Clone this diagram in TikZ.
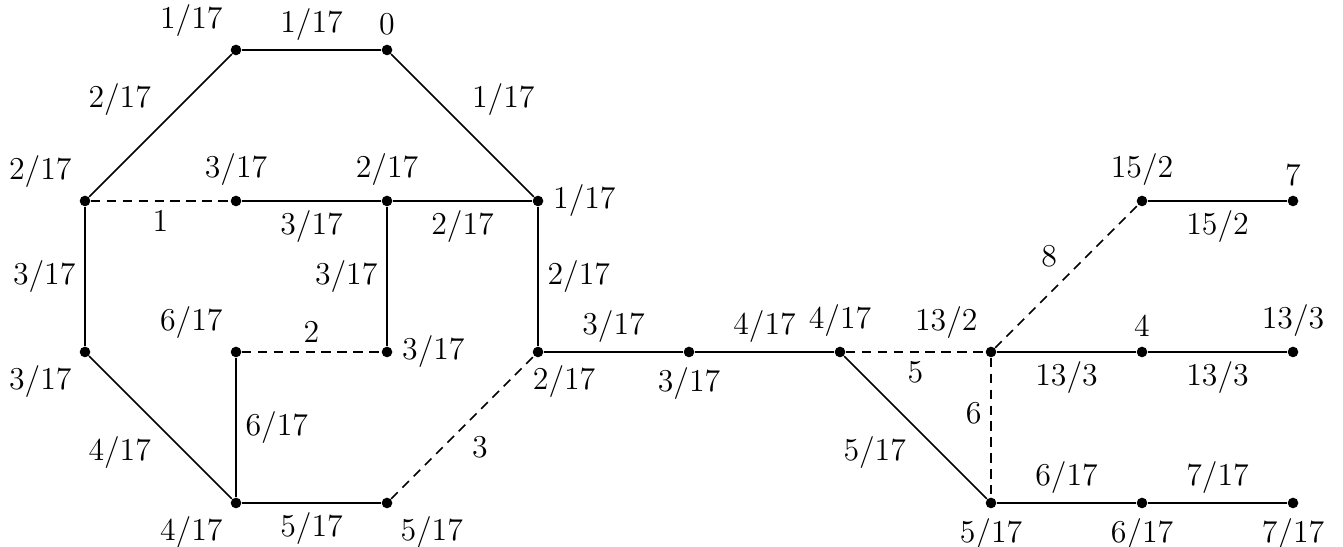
\documentclass[tikz,border=0pt]{standalone}
\usepackage{tikz}
\usetikzlibrary{positioning}

\begin{document}
\begin{tikzpicture}[
    x=2cm, y=2cm,
    font=\fontsize{12}{14}\selectfont,
    vtx/.style={circle, fill, inner sep=0pt, minimum size=4pt},
    edge/.style={line width=0.6pt},
    cut/.style={edge, dash pattern=on 3.5pt off 2.5pt}
]
\useasboundingbox (-0.563,-0.291) rectangle (8.331,3.331);

% the cycle part
\node[vtx, label=above left:$1/17$] (a) at (1,3) {};
\node[vtx, label=above:$0$] (b) at (2,3) {};
\node[vtx, label=above left:$2/17$] (c) at (0,2) {};
\node[vtx, label=above:$3/17$] (d) at (1,2) {};
\node[vtx, label=above:$2/17$] (e) at (2,2) {};
\node[vtx, label=right:$1/17$] (f) at (3,2) {};
\node[vtx, label=below left:$3/17$] (g) at (0,1) {};
\node[vtx, label=above left:$6/17$] (h) at (1,1) {};
\node[vtx, label=right:$3/17$] (i) at (2,1) {};
\node[vtx, label={[xshift=-7pt]below right:$2/17$}] (j) at (3,1) {};
\node[vtx, label=below left:$4/17$] (r) at (1,0) {};
\node[vtx, label=below right:$5/17$] (s) at (2,0) {};

% the tree part
\node[vtx, label=below:$3/17$] (k) at (4,1) {};
\node[vtx, label=above:$4/17$] (l) at (5,1) {};
\node[vtx, label=above left:$13/2$] (m) at (6,1) {};
\node[vtx, label=above:$4$] (n) at (7,1) {};
\node[vtx, label=above:$13/3$] (o) at (8,1) {};
\node[vtx, label=above:$15/2$] (p) at (7,2) {};
\node[vtx, label=above:$7$] (q) at (8,2) {};
\node[vtx, label=below:$5/17$] (t) at (6,0) {};
\node[vtx, label=below:$6/17$] (u) at (7,0) {};
\node[vtx, label=below:$7/17$] (w) at (8,0) {};

\draw[edge] (a) -- (b) node[midway, above] {$1/17$};
\draw[edge] (b) -- (f) node[midway, above right] {$1/17$};
\draw[edge] (a) -- (c) node[midway, above left] {$2/17$};
\draw[cut] (c) -- (d) node[midway, below] {$1$};
\draw[edge] (d) -- (e) node[midway, below] {$3/17$};
\draw[edge] (e) -- (f) node[midway, below] {$2/17$};
\draw[edge] (c) -- (g) node[midway, left] {$3/17$};
\draw[edge] (e) -- (i) node[midway, left] {$3/17$};
\draw[edge] (f) -- (j) node[midway, right] {$2/17$};
\draw[cut] (h) -- (i) node[midway, above] {$2$};
\draw[edge] (g) -- (r) node[midway, below left] {$4/17$};
\draw[edge] (h) -- (r) node[midway, right] {$6/17$};
\draw[edge] (r) -- (s) node[midway, below] {$5/17$};
\draw[cut] (s) -- (j) node[midway, below right] {$3$};

\draw[edge] (j) -- (k) node[midway, above] {$3/17$};
\draw[edge] (k) -- (l) node[midway, above] {$4/17$};
\draw[cut] (l) -- (m) node[midway, below] {$5$};
\draw[edge] (l) -- (t) node[midway, below left] {$5/17$};
\draw[cut] (m) -- (t) node[pos=0.4, left] {$6$};
\draw[edge] (m) -- (n) node[midway, below] {$13/3$};
\draw[edge] (n) -- (o) node[midway, below] {$13/3$};
\draw[cut] (m) -- (p) node[midway, above left] {$8$};
\draw[edge] (p) -- (q) node[midway, below] {$15/2$};
\draw[edge] (t) -- (u) node[midway, above] {$6/17$};
\draw[edge] (u) -- (w) node[midway, above] {$7/17$};
\end{tikzpicture}
\end{document}
